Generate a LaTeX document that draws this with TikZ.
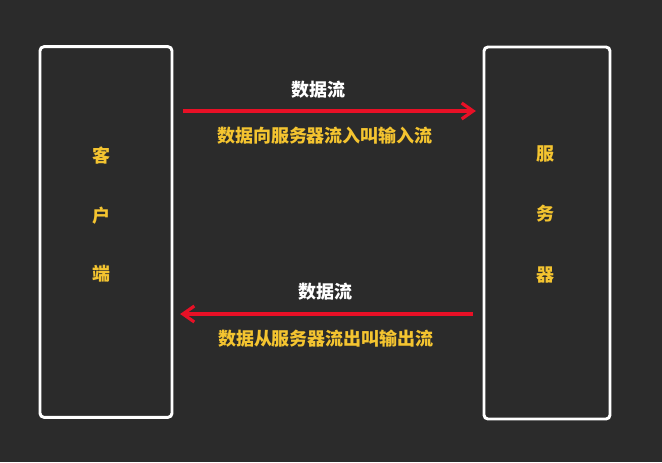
\documentclass[tikz,border=0pt]{standalone}
\usepackage{fontspec}
\newfontfamily\cjk{Noto Sans CJK SC}
\usepackage{xcolor}
\usepackage{tikz}
\usetikzlibrary{arrows.meta, positioning}

\definecolor{bgdark}{RGB}{43,43,43}
\definecolor{labelyellow}{RGB}{244,196,48}
\definecolor{flowred}{RGB}{232,16,38}

\begin{document}
\begin{tikzpicture}[
        x=0.75pt, y=-0.75pt,
        endpoint/.style={rectangle, rounded corners=3pt, draw=white, line width=2.2pt, minimum width=99pt, minimum height=278pt},
        sidetext/.style={font=\cjk\bfseries\fontsize{13.5}{16}\selectfont, text=labelyellow, align=center},
        flowname/.style={font=\cjk\bfseries\fontsize{13.5}{16}\selectfont, text=white},
        flowdesc/.style={font=\cjk\bfseries\fontsize{13.5}{16}\selectfont, text=labelyellow},
        flow/.style={-{Straight Barb[length=3mm, width=4.2mm, line width=2.4pt]}, line width=2.6pt, color=flowred}
    ]

    % Background
    \fill[bgdark] (0,0) rectangle (662,462);
    \useasboundingbox (0,0) rectangle (662,462);

    % Client and server
    \node[endpoint] (client) at (106,232) {};
    \node[endpoint, minimum width=94.5pt, minimum height=279pt] (server) at (547,233) {};

    % Vertical labels
    \node[sidetext] (c1) at (102,156) {客};
    \node[sidetext] (c2) at (102,216) {户};
    \node[sidetext] (c3) at (102,274) {端};
    \node[sidetext] (s1) at (545,154) {服};
    \node[sidetext] (s2) at (545,214) {务};
    \node[sidetext] (s3) at (545,275) {器};

    % Arrow rows
    \coordinate (in_row) at (0,111);
    \coordinate (out_row) at (0,314);

    % Input flow
    \node[flowname] (in_name) at (318,90) {数据流};
    \node[flowdesc] (in_desc) at (325,136) {数据向服务器流入叫输入流};
    \draw[flow, shorten <=7pt, shorten >=5pt] (client.east |- in_row) -- (server.west |- in_row);

    % Output flow
    \node[flowname] (out_name) at (325,292) {数据流};
    \node[flowdesc] (out_desc) at (326,339) {数据从服务器流出叫输出流};
    \draw[flow, shorten <=7pt, shorten >=5pt] (server.west |- out_row) -- (client.east |- out_row);

\end{tikzpicture}
\end{document}
